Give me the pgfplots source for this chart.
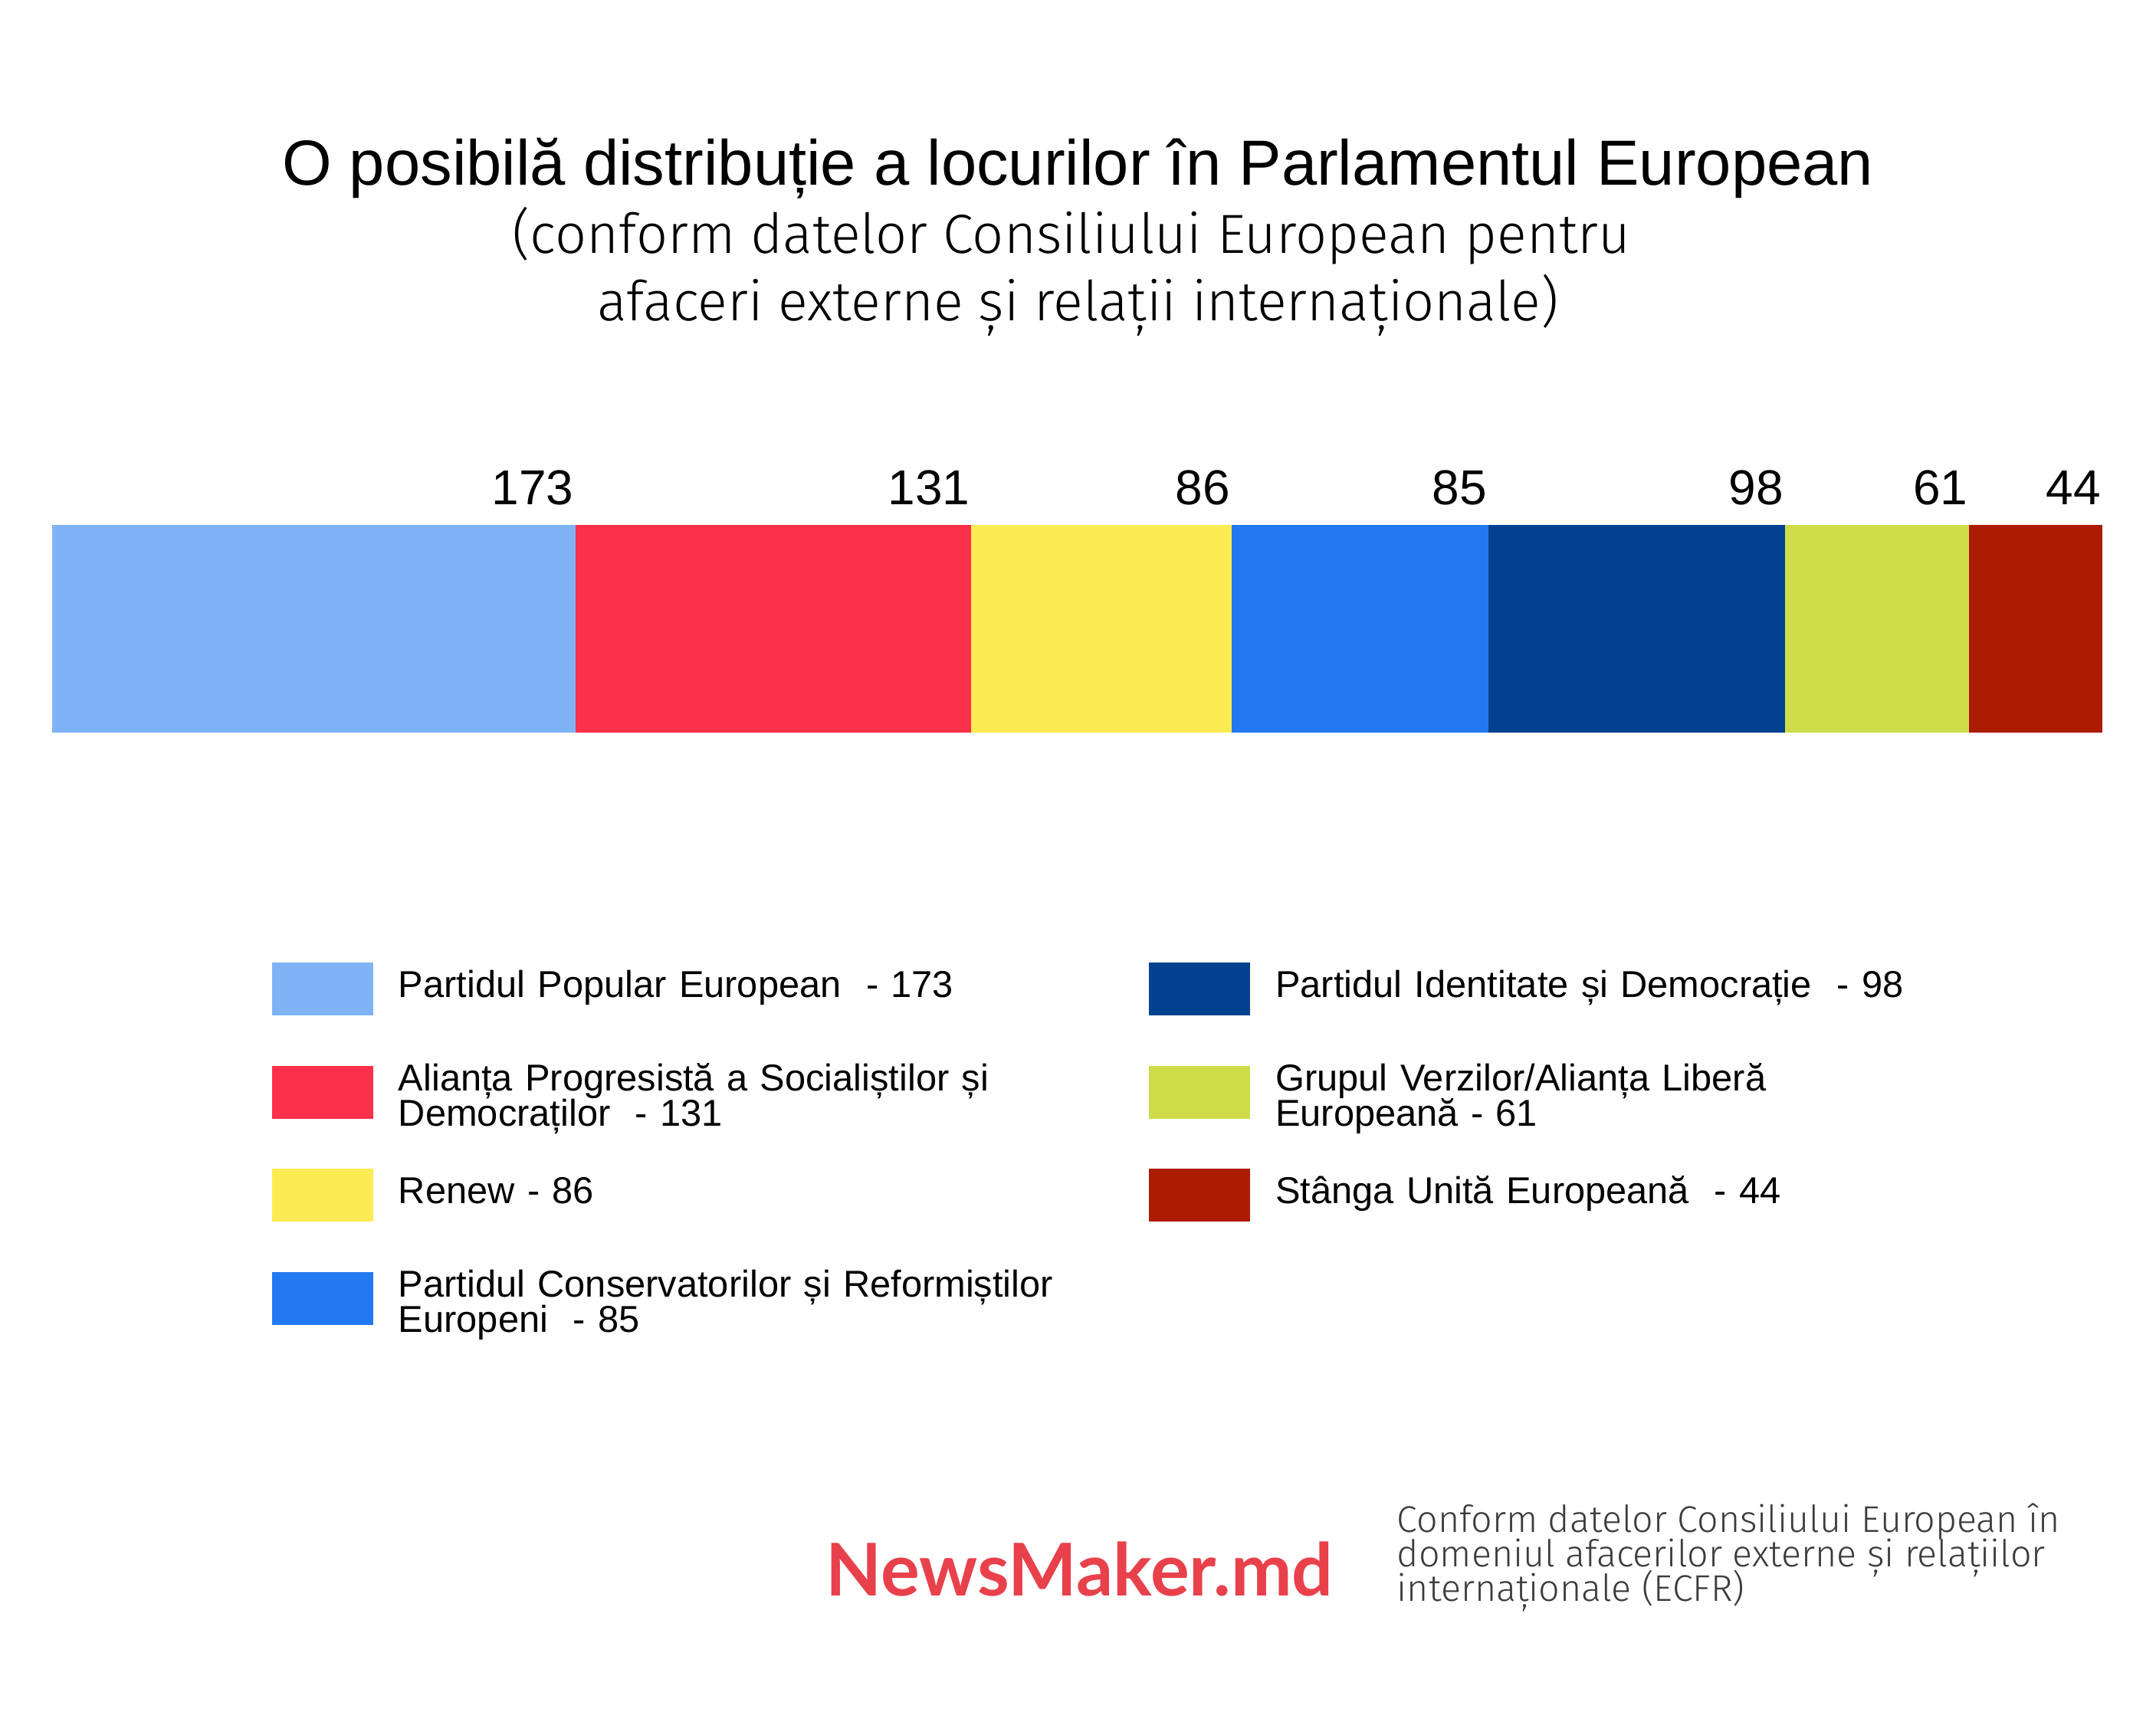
\documentclass[border=0pt]{standalone}
\usepackage{fontspec}
\setmainfont{Liberation Sans}
\newfontfamily\logofont{Lato}
\newfontfamily\lightfont{Fira Sans Light}
\usepackage{pgfplots}
\pgfplotsset{compat=1.18}
\definecolor{cA}{HTML}{7FB3F6}
\definecolor{cB}{HTML}{FB304A}
\definecolor{cC}{HTML}{FCEB52}
\definecolor{cD}{HTML}{2379F2}
\definecolor{cE}{HTML}{02418F}
\definecolor{cF}{HTML}{CEDC4A}
\definecolor{cG}{HTML}{AD1B02}
\definecolor{logored}{HTML}{E8414B}
\definecolor{notegray}{HTML}{3C3C3C}
\newcommand{\legfont}{\fontsize{12.2pt}{11.6pt}\selectfont}
\newcommand{\numfont}{\fontsize{16pt}{19pt}\selectfont}
\begin{document}
\lineskiplimit=-20pt
\begin{tikzpicture}
\useasboundingbox[fill=white] (0pt,0pt) rectangle (703.25pt,-562.5pt);
% titles
\node[anchor=base, inner sep=0pt] at (351.6pt,-60.25pt) {\fontsize{20.8pt}{25pt}\selectfont O posibilă distribuție a locurilor în Parlamentul European};
\node[anchor=base, inner sep=0pt] at (349.5pt,-82.5pt) {\lightfont\fontsize{18pt}{22pt}\selectfont (conform datelor Consiliului European pentru};
\node[anchor=base, inner sep=0pt] at (351.6pt,-104.5pt) {\lightfont\fontsize{18pt}{22pt}\selectfont afaceri externe și relații internaționale)};
% footer
\node[anchor=base west, inner sep=0pt, text=logored] at (269.25pt,-520.5pt) {\logofont\bfseries\fontsize{23.75pt}{28pt}\selectfont NewsMaker.md};
\node[anchor=base west, inner sep=0pt, text=notegray] at (455.5pt,-499.75pt) {\lightfont\fontsize{12.1pt}{14pt}\selectfont Conform datelor Consiliului European în};
\node[anchor=base west, inner sep=0pt, text=notegray] at (455.5pt,-511pt) {\lightfont\fontsize{12.1pt}{14pt}\selectfont domeniul afacerilor externe și relațiilor};
\node[anchor=base west, inner sep=0pt, text=notegray] at (455.5pt,-522.25pt) {\lightfont\fontsize{12.1pt}{14pt}\selectfont internaționale (ECFR)};
\begin{axis}[
  at={(17pt,-239pt)}, anchor=south west,
  xbar stacked,
  width=668.75pt, height=67.75pt, scale only axis,
  xmin=0, xmax=678, ymin=-0.5, ymax=0.5,
  bar width=1,
  hide axis, clip=false,
  point meta=explicit,
  /pgf/number format/assume math mode=true,
  nodes near coords,
  every node near coord/.append style={anchor=base east, yshift=40.6pt, xshift=-0.3pt, inner sep=0pt, font=\numfont, text=black},
  legend columns=2,
  legend cell align=left,
  legend style={at={(0.1071,-0.9862)}, anchor=north west, draw=none, fill=none,
    inner sep=0pt, outer sep=0pt, row sep=0pt, column sep=0pt,
    font=\legfont,
    nodes={text width=244.75pt, align=left, inner sep=0pt, minimum height=33.625pt, text height=8.6pt, text depth=3.3pt}},
  legend image code/.code={\fill[#1] (0pt,-8.625pt) rectangle (33pt,8.625pt); \path (41.35pt,0pt);},
]
\addplot[fill=cA, draw=none, forget plot, every node near coord/.append style={xshift=85.32pt}] coordinates {(173,0) [173]};
\addplot[fill=cB, draw=none, forget plot, every node near coord/.append style={xshift=64.61pt}] coordinates {(131,0) [131]};
\addplot[fill=cC, draw=none, forget plot, every node near coord/.append style={xshift=42.41pt}] coordinates {(86,0) [86]};
\addplot[fill=cD, draw=none, forget plot, every node near coord/.append style={xshift=41.92pt}] coordinates {(85,0) [85]};
\addplot[fill=cE, draw=none, forget plot, every node near coord/.append style={xshift=48.33pt}] coordinates {(98,0) [98]};
\addplot[fill=cF, draw=none, forget plot, every node near coord/.append style={xshift=30.08pt}] coordinates {(61,0) [61]};
\addplot[fill=cG, draw=none, forget plot, every node near coord/.append style={xshift=21.70pt}] coordinates {(44,0) [44]};
\addlegendimage{fill=cA, draw=none}
\addlegendentry{Partidul Popular European\ \ - 173}
\addlegendimage{fill=cE, draw=none}
\addlegendentry{Partidul Identitate și Democrație\ \ - 98}
\addlegendimage{fill=cB, draw=none}
\addlegendentry[text depth=9.6pt]{Alianța Progresistă a Socialiștilor și\\Democraților\ \ - 131}
\addlegendimage{fill=cF, draw=none}
\addlegendentry[text depth=9.6pt]{Grupul Verzilor/Alianța Liberă\\Europeană - 61}
\addlegendimage{fill=cC, draw=none}
\addlegendentry{Renew - 86}
\addlegendimage{fill=cG, draw=none}
\addlegendentry{Stânga Unită Europeană\ \ - 44}
\addlegendimage{fill=cD, draw=none}
\addlegendentry[text depth=9.6pt]{Partidul Conservatorilor și Reformiștilor\\Europeni\ \ - 85}
\end{axis}
\end{tikzpicture}
\end{document}
